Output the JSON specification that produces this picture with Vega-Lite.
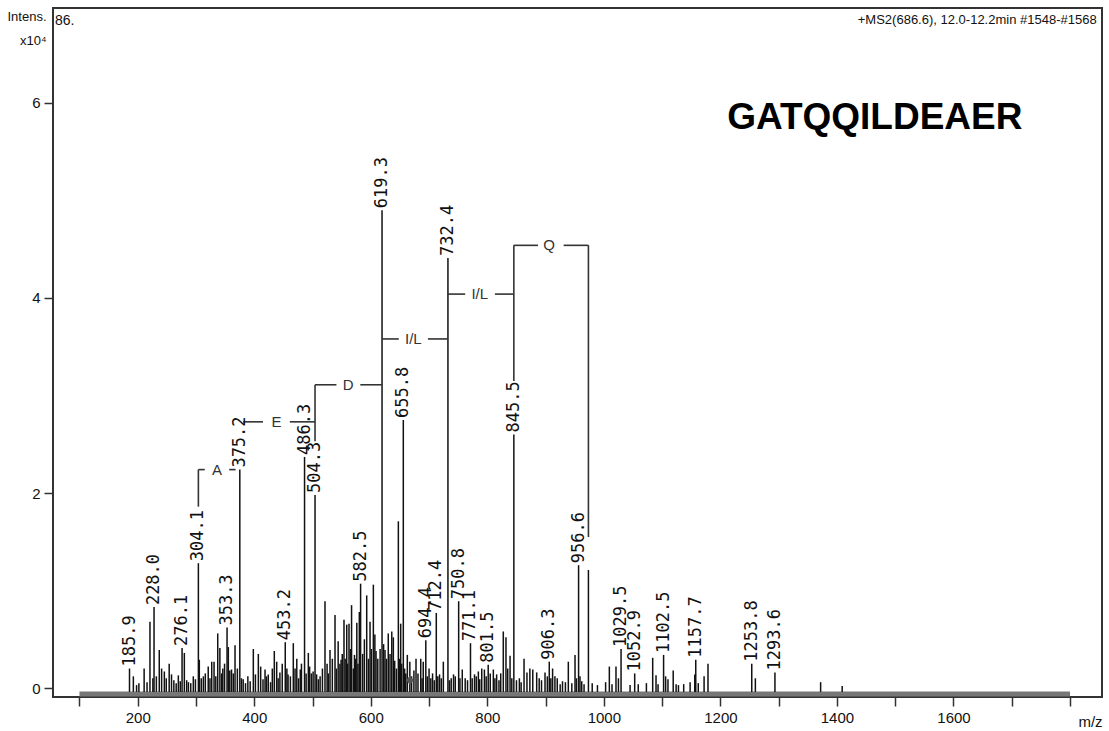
{
  "$schema": "https://vega.github.io/schema/vega-lite/v6.json",
  "width": 1049,
  "height": 689,
  "autosize": {"type": "none"},
  "padding": {"left": 53, "top": 8, "right": 7, "bottom": 34},
  "background": "white",
  "config": {
    "view": {"stroke": "#333", "strokeWidth": 2},
    "axis": {"labelFont": "Liberation Sans", "titleFont": "Liberation Sans", "labelColor": "#111", "titleColor": "#111", "tickColor": "#333", "tickWidth": 1.5, "grid": false, "domain": false, "titleFontWeight": "normal"}
  },
  "datasets": {
    "peaks": [
      {"mz": 185.9, "i": 0.20, "label": "185.9"},
      {"mz": 192.5, "i": 0.12},
      {"mz": 198, "i": 0.03},
      {"mz": 202, "i": 0.05},
      {"mz": 211, "i": 0.20},
      {"mz": 216, "i": 0.06},
      {"mz": 221, "i": 0.68},
      {"mz": 226, "i": 0.10},
      {"mz": 228.0, "i": 0.83, "label": "228.0"},
      {"mz": 232, "i": 0.12},
      {"mz": 237, "i": 0.39},
      {"mz": 241, "i": 0.20},
      {"mz": 245.7, "i": 0.17},
      {"mz": 249, "i": 0.10},
      {"mz": 254, "i": 0.25},
      {"mz": 258, "i": 0.14},
      {"mz": 262, "i": 0.08},
      {"mz": 266, "i": 0.05},
      {"mz": 269.7, "i": 0.13},
      {"mz": 273, "i": 0.07},
      {"mz": 276.1, "i": 0.41, "label": "276.1"},
      {"mz": 280, "i": 0.36},
      {"mz": 284, "i": 0.08},
      {"mz": 287, "i": 0.06},
      {"mz": 291, "i": 0.05},
      {"mz": 295.4, "i": 0.12},
      {"mz": 299, "i": 0.09},
      {"mz": 304.1, "i": 1.28, "label": "304.1"},
      {"mz": 305.7, "i": 0.29},
      {"mz": 309, "i": 0.10},
      {"mz": 312.6, "i": 0.12},
      {"mz": 316, "i": 0.15},
      {"mz": 321, "i": 0.22},
      {"mz": 324, "i": 0.10},
      {"mz": 327, "i": 0.27},
      {"mz": 331, "i": 0.27},
      {"mz": 334, "i": 0.12},
      {"mz": 337.3, "i": 0.56},
      {"mz": 341, "i": 0.41},
      {"mz": 344, "i": 0.15},
      {"mz": 346, "i": 0.20},
      {"mz": 349, "i": 0.25},
      {"mz": 353.3, "i": 0.62, "label": "353.3"},
      {"mz": 355.5, "i": 0.42},
      {"mz": 358, "i": 0.18},
      {"mz": 361, "i": 0.19},
      {"mz": 364, "i": 0.15},
      {"mz": 367, "i": 0.44},
      {"mz": 371, "i": 0.20},
      {"mz": 375.2, "i": 2.24, "label": "375.2"},
      {"mz": 378, "i": 0.10},
      {"mz": 381, "i": 0.09},
      {"mz": 385, "i": 0.05},
      {"mz": 389, "i": 0.12},
      {"mz": 393, "i": 0.07},
      {"mz": 398.4, "i": 0.40},
      {"mz": 402, "i": 0.14},
      {"mz": 407, "i": 0.35},
      {"mz": 411, "i": 0.22},
      {"mz": 415, "i": 0.09},
      {"mz": 418.5, "i": 0.19},
      {"mz": 421, "i": 0.12},
      {"mz": 424, "i": 0.14},
      {"mz": 428, "i": 0.06},
      {"mz": 431, "i": 0.20},
      {"mz": 434.4, "i": 0.38},
      {"mz": 438.5, "i": 0.27},
      {"mz": 441, "i": 0.10},
      {"mz": 444, "i": 0.16},
      {"mz": 448, "i": 0.25},
      {"mz": 453.2, "i": 0.47, "label": "453.2"},
      {"mz": 456, "i": 0.20},
      {"mz": 458, "i": 0.14},
      {"mz": 462, "i": 0.12},
      {"mz": 467, "i": 0.46},
      {"mz": 470, "i": 0.20},
      {"mz": 473, "i": 0.30},
      {"mz": 476, "i": 0.10},
      {"mz": 479, "i": 0.19},
      {"mz": 481, "i": 0.25},
      {"mz": 486.3, "i": 2.37, "label": "486.3"},
      {"mz": 489, "i": 0.15},
      {"mz": 492.8, "i": 0.36},
      {"mz": 495, "i": 0.22},
      {"mz": 498, "i": 0.15},
      {"mz": 501, "i": 0.17},
      {"mz": 504.3, "i": 1.98, "label": "504.3"},
      {"mz": 507, "i": 0.14},
      {"mz": 510, "i": 0.09},
      {"mz": 513, "i": 0.12},
      {"mz": 517, "i": 0.20},
      {"mz": 521.4, "i": 0.89},
      {"mz": 525, "i": 0.25},
      {"mz": 527, "i": 0.15},
      {"mz": 530, "i": 0.39},
      {"mz": 534, "i": 0.30},
      {"mz": 538.6, "i": 0.75},
      {"mz": 541, "i": 0.20},
      {"mz": 544, "i": 0.48},
      {"mz": 547, "i": 0.25},
      {"mz": 549, "i": 0.29},
      {"mz": 551, "i": 0.35},
      {"mz": 554, "i": 0.70},
      {"mz": 556, "i": 0.30},
      {"mz": 558.7, "i": 0.65},
      {"mz": 560, "i": 0.25},
      {"mz": 562.6, "i": 0.66},
      {"mz": 565, "i": 0.40},
      {"mz": 567, "i": 0.85},
      {"mz": 570, "i": 0.20},
      {"mz": 572, "i": 0.34},
      {"mz": 574, "i": 0.30},
      {"mz": 576, "i": 0.67},
      {"mz": 578, "i": 0.25},
      {"mz": 580.3, "i": 0.78},
      {"mz": 582.5, "i": 1.07, "label": "582.5"},
      {"mz": 586, "i": 0.35},
      {"mz": 589, "i": 0.50},
      {"mz": 593, "i": 0.95},
      {"mz": 596, "i": 0.30},
      {"mz": 598.7, "i": 0.68},
      {"mz": 601, "i": 0.40},
      {"mz": 604.4, "i": 1.06},
      {"mz": 607, "i": 0.55},
      {"mz": 609, "i": 0.38},
      {"mz": 612, "i": 0.30},
      {"mz": 616, "i": 0.40},
      {"mz": 619.3, "i": 4.90, "label": "619.3"},
      {"mz": 622, "i": 0.45},
      {"mz": 624.4, "i": 0.39},
      {"mz": 627, "i": 0.30},
      {"mz": 630, "i": 0.56},
      {"mz": 633, "i": 0.35},
      {"mz": 636, "i": 0.58},
      {"mz": 638.7, "i": 0.52},
      {"mz": 641, "i": 0.28},
      {"mz": 644, "i": 0.20},
      {"mz": 647.3, "i": 1.71},
      {"mz": 649, "i": 0.30},
      {"mz": 651.3, "i": 0.66},
      {"mz": 653, "i": 0.25},
      {"mz": 655.8, "i": 2.75, "label": "655.8"},
      {"mz": 658, "i": 0.20},
      {"mz": 660, "i": 0.15},
      {"mz": 662.7, "i": 0.34},
      {"mz": 667, "i": 0.27},
      {"mz": 670, "i": 0.12},
      {"mz": 674, "i": 0.18},
      {"mz": 677.6, "i": 0.30},
      {"mz": 681, "i": 0.15},
      {"mz": 685.7, "i": 0.30},
      {"mz": 688, "i": 0.10},
      {"mz": 690, "i": 0.27},
      {"mz": 694.4, "i": 0.49, "label": "694.4"},
      {"mz": 697, "i": 0.12},
      {"mz": 700, "i": 0.20},
      {"mz": 703, "i": 0.10},
      {"mz": 706, "i": 0.15},
      {"mz": 709, "i": 0.08},
      {"mz": 712.4, "i": 0.77, "label": "712.4"},
      {"mz": 715, "i": 0.12},
      {"mz": 718, "i": 0.14},
      {"mz": 721, "i": 0.10},
      {"mz": 724.5, "i": 0.27},
      {"mz": 732.4, "i": 4.41, "label": "732.4"},
      {"mz": 735, "i": 0.08},
      {"mz": 738, "i": 0.10},
      {"mz": 742, "i": 0.14},
      {"mz": 745, "i": 0.12},
      {"mz": 750.8, "i": 0.89, "label": "750.8"},
      {"mz": 753, "i": 0.10},
      {"mz": 757, "i": 0.19},
      {"mz": 762, "i": 0.10},
      {"mz": 766, "i": 0.08},
      {"mz": 771.1, "i": 0.46, "label": "771.1"},
      {"mz": 774, "i": 0.10},
      {"mz": 778, "i": 0.14},
      {"mz": 781, "i": 0.12},
      {"mz": 784.6, "i": 0.17},
      {"mz": 787, "i": 0.09},
      {"mz": 790.4, "i": 0.20},
      {"mz": 795, "i": 0.19},
      {"mz": 798, "i": 0.12},
      {"mz": 801.5, "i": 0.24, "label": "801.5"},
      {"mz": 805, "i": 0.15},
      {"mz": 810.3, "i": 0.19},
      {"mz": 813, "i": 0.10},
      {"mz": 816, "i": 0.14},
      {"mz": 820, "i": 0.08},
      {"mz": 823, "i": 0.15},
      {"mz": 827.4, "i": 0.58},
      {"mz": 832, "i": 0.52},
      {"mz": 835, "i": 0.20},
      {"mz": 839, "i": 0.33},
      {"mz": 842, "i": 0.10},
      {"mz": 845.5, "i": 2.60, "label": "845.5"},
      {"mz": 850, "i": 0.08},
      {"mz": 855, "i": 0.10},
      {"mz": 858, "i": 0.06},
      {"mz": 863, "i": 0.30},
      {"mz": 868, "i": 0.16},
      {"mz": 873, "i": 0.20},
      {"mz": 878, "i": 0.19},
      {"mz": 884.7, "i": 0.16},
      {"mz": 889, "i": 0.10},
      {"mz": 893, "i": 0.08},
      {"mz": 899, "i": 0.16},
      {"mz": 903, "i": 0.12},
      {"mz": 906.3, "i": 0.27, "label": "906.3"},
      {"mz": 909, "i": 0.10},
      {"mz": 912, "i": 0.20},
      {"mz": 916, "i": 0.12},
      {"mz": 920, "i": 0.10},
      {"mz": 925, "i": 0.04},
      {"mz": 929, "i": 0.07},
      {"mz": 934, "i": 0.06},
      {"mz": 939, "i": 0.27},
      {"mz": 945, "i": 0.05},
      {"mz": 950.5, "i": 0.34},
      {"mz": 953, "i": 0.10},
      {"mz": 956.6, "i": 1.26, "label": "956.6"},
      {"mz": 959, "i": 0.12},
      {"mz": 962, "i": 0.07},
      {"mz": 966, "i": 0.04},
      {"mz": 973.5, "i": 1.21},
      {"mz": 980, "i": 0.05},
      {"mz": 989, "i": 0.03},
      {"mz": 1003, "i": 0.06},
      {"mz": 1009.4, "i": 0.22},
      {"mz": 1014, "i": 0.04},
      {"mz": 1020.8, "i": 0.22},
      {"mz": 1025, "i": 0.10},
      {"mz": 1029.5, "i": 0.40, "label": "1029.5"},
      {"mz": 1045, "i": 0.03},
      {"mz": 1052.9, "i": 0.15, "label": "1052.9"},
      {"mz": 1059, "i": 0.04},
      {"mz": 1073, "i": 0.05},
      {"mz": 1083.8, "i": 0.31},
      {"mz": 1089.5, "i": 0.13},
      {"mz": 1093, "i": 0.04},
      {"mz": 1102.5, "i": 0.34, "label": "1102.5"},
      {"mz": 1106, "i": 0.12},
      {"mz": 1110, "i": 0.09},
      {"mz": 1119, "i": 0.18},
      {"mz": 1124, "i": 0.04},
      {"mz": 1128, "i": 0.03},
      {"mz": 1137, "i": 0.04},
      {"mz": 1148, "i": 0.06},
      {"mz": 1156, "i": 0.14},
      {"mz": 1157.7, "i": 0.29, "label": "1157.7"},
      {"mz": 1162, "i": 0.05},
      {"mz": 1172, "i": 0.12},
      {"mz": 1178.7, "i": 0.25},
      {"mz": 1253.8, "i": 0.25, "label": "1253.8"},
      {"mz": 1260, "i": 0.10},
      {"mz": 1293.6, "i": 0.16, "label": "1293.6"},
      {"mz": 1372, "i": 0.06},
      {"mz": 1409, "i": 0.02}
    ],
    "brackets": [
      {"mz": 304.1, "mz2": 315, "i": 2.24, "i2": 2.24},
      {"mz": 357, "mz2": 368, "i": 2.24, "i2": 2.24},
      {"mz": 304.1, "mz2": 304.1, "i": 1.86, "i2": 2.24},
      {"mz": 381, "mz2": 415, "i": 2.73, "i2": 2.73},
      {"mz": 461, "mz2": 504.3, "i": 2.73, "i2": 2.73},
      {"mz": 504.3, "mz2": 504.3, "i": 2.53, "i2": 3.11},
      {"mz": 504.3, "mz2": 541, "i": 3.11, "i2": 3.11},
      {"mz": 582, "mz2": 619.3, "i": 3.11, "i2": 3.11},
      {"mz": 619.3, "mz2": 648, "i": 3.58, "i2": 3.58},
      {"mz": 698, "mz2": 732.4, "i": 3.58, "i2": 3.58},
      {"mz": 732.4, "mz2": 762, "i": 4.04, "i2": 4.04},
      {"mz": 813, "mz2": 845.5, "i": 4.04, "i2": 4.04},
      {"mz": 845.5, "mz2": 845.5, "i": 3.15, "i2": 4.54},
      {"mz": 845.5, "mz2": 887, "i": 4.54, "i2": 4.54},
      {"mz": 931, "mz2": 973.5, "i": 4.54, "i2": 4.54},
      {"mz": 973.5, "mz2": 973.5, "i": 1.55, "i2": 4.54}
    ],
    "btext": [
      {"mz": 336, "i": 2.24, "t": "A"},
      {"mz": 438, "i": 2.73, "t": "E"},
      {"mz": 561, "i": 3.11, "t": "D"},
      {"mz": 673, "i": 3.58, "t": "I/L"},
      {"mz": 787, "i": 4.04, "t": "I/L"},
      {"mz": 906, "i": 4.54, "t": "Q"}
    ]
  },
  "encoding": {
    "x": {"field": "mz", "type": "quantitative", "scale": {"domain": [54.6, 1854.9], "nice": false, "zero": false},
      "axis": {"values": [100, 200, 300, 400, 500, 600, 700, 800, 900, 1000, 1100, 1200, 1300, 1400, 1500, 1600, 1700, 1800],
        "labelExpr": "(datum.value % 200 === 0 && datum.value < 1800) ? datum.label : ''", "format": "d",
        "labelOverlap": false, "labelBound": false, "labelFlush": false, "tickSize": 9, "labelPadding": 4, "labelFontSize": 15,
        "title": "m/z", "titleFontSize": 15, "titleX": 1037, "titleY": 24, "titleBaseline": "middle", "titleAlign": "center", "titleAnchor": null}},
    "y": {"field": "i", "type": "quantitative", "scale": {"domain": [-0.092, 6.974], "nice": false, "zero": false},
      "axis": {"values": [0, 2, 4, 6], "tickSize": 9, "labelPadding": 4, "labelFontSize": 15,
        "title": ["Intens.", "x10⁴"], "titleAngle": 0, "titleAlign": "right", "titleBaseline": "top", "titleX": -7, "titleY": 2,
        "titleLineHeight": 24, "titleFontSize": 13}}
  },
  "layer": [
    {
      "data": {"values": [{"mz": 100, "mz2": 1800, "i": -0.06}]},
      "mark": {"type": "rule", "color": "#777", "strokeWidth": 5},
      "encoding": {"x2": {"field": "mz2"}}
    },
    {
      "data": {"name": "peaks"},
      "mark": {"type": "rule", "color": "#111", "strokeWidth": 1.5},
      "encoding": {"y2": {"datum": -0.04}}
    },
    {
      "data": {"name": "brackets"},
      "mark": {"type": "rule", "color": "#333", "strokeWidth": 1.6},
      "encoding": {"x2": {"field": "mz2"}, "y2": {"field": "i2"}}
    },
    {
      "data": {"name": "peaks"},
      "transform": [{"filter": "datum.label"}],
      "mark": {"type": "text", "angle": 270, "align": "left", "baseline": "middle", "dx": 2, "font": "DejaVu Sans Mono", "fontSize": 17, "color": "#111"},
      "encoding": {"text": {"field": "label"}}
    },
    {
      "data": {"name": "btext"},
      "mark": {"type": "text", "align": "center", "baseline": "middle", "font": "Liberation Sans", "fontSize": 15, "color": "#333"},
      "encoding": {"text": {"field": "t"}}
    },
    {
      "data": {"values": [{"mz": 667, "i": 0.08}]},
      "mark": {"type": "point", "shape": "diamond", "filled": true, "color": "#555", "size": 70, "opacity": 1}
    },
    {
      "data": {"values": [{"mz": 58, "i": 6.84, "t": "86."}]},
      "mark": {"type": "text", "align": "left", "baseline": "middle", "font": "Liberation Sans", "fontSize": 14, "color": "#111"},
      "encoding": {"text": {"field": "t"}}
    },
    {
      "data": {"values": [{"mz": 1845.7, "i": 6.85, "t": "+MS2(686.6), 12.0-12.2min #1548-#1568"}]},
      "mark": {"type": "text", "align": "right", "baseline": "middle", "font": "Liberation Sans", "fontSize": 13, "color": "#111"},
      "encoding": {"text": {"field": "t"}}
    },
    {
      "data": {"values": [{"mz": 1465, "i": 5.85, "t": "GATQQILDEAER"}]},
      "mark": {"type": "text", "align": "center", "baseline": "middle", "font": "Liberation Sans", "fontWeight": "bold", "fontSize": 37, "color": "#000"},
      "encoding": {"text": {"field": "t"}}
    }
  ]
}
